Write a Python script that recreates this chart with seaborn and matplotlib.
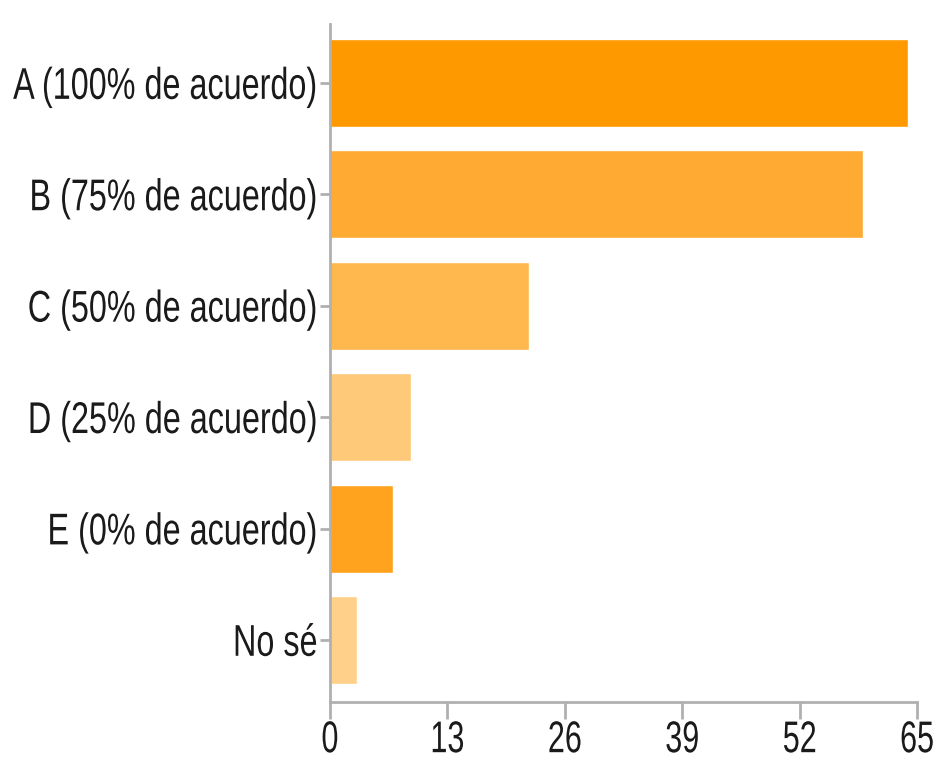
import matplotlib
matplotlib.use("Agg")
import matplotlib.pyplot as plt
import matplotlib.patheffects as pe
from matplotlib.transforms import Affine2D
import seaborn as sns
import pandas as pd

categories = ["A (100% de acuerdo)", "B (75% de acuerdo)", "C (50% de acuerdo)",
              "D (25% de acuerdo)", "E (0% de acuerdo)", "No sé"]
values = [64, 59, 22, 9, 7, 3]
colors = ["#FF9900", "#FFAA33", "#FFB84D", "#FFC97A", "#FFA31F", "#FFD08A"]
xticks = [0, 13, 26, 39, 52, 65]


class Stretch(pe.AbstractPathEffect):
    """Stretch glyphs vertically about their cap mid-line (imitates a condensed face)."""
    def __init__(self, sy):
        super().__init__()
        self.sy = sy

    def draw_path(self, renderer, gc, tpath, affine, rgbFace=None):
        # path units: 100 per em; cap mid-line ~ 0.358 em above baseline
        y0 = affine.transform((0, 35.8))[1]
        new = affine + Affine2D().translate(0, -y0).scale(1, self.sy).translate(0, y0)
        renderer.draw_path(gc, tpath, new, rgbFace)


sns.set_theme(style="white")
plt.rcParams['font.family'] = ['Liberation Sans', 'DejaVu Sans']

df = pd.DataFrame({"cat": categories, "val": values})
fig = plt.figure(figsize=(9.38, 7.59), dpi=100)
ax = fig.add_axes([330/938, 1-702/759, (917-330)/938, (702-24)/759])
sns.barplot(data=df, y="cat", x="val", hue="cat", palette=colors, legend=False,
            orient="h", width=0.79, saturation=1, ax=ax)

ax.set_xlim(0, 65)
ax.set_ylim(5.557, -0.53)
ax.set_xticks(xticks)
ax.set_xticklabels([str(t) for t in xticks])
ax.set_xlabel("")
ax.set_ylabel("")
for s in ["top", "right"]:
    ax.spines[s].set_visible(False)
for s in ["left", "bottom"]:
    ax.spines[s].set_color("#b0b0b0")
    ax.spines[s].set_linewidth(2)

ylab_size = 23.3
xlab_size = 22
ax.tick_params(axis="y", length=7, width=2, color="#b0b0b0", labelsize=ylab_size,
               labelcolor="#1a1a1a", pad=2, left=True)
ax.tick_params(axis="x", length=12, width=2, color="#b0b0b0", labelsize=xlab_size,
               labelcolor="#1a1a1a", pad=4, bottom=True)

for t in ax.get_yticklabels():
    t.set_path_effects([Stretch(32 / ylab_size)])
for t in ax.get_xticklabels():
    t.set_path_effects([Stretch(32 / xlab_size)])

fig.savefig("out.png", dpi=100)
